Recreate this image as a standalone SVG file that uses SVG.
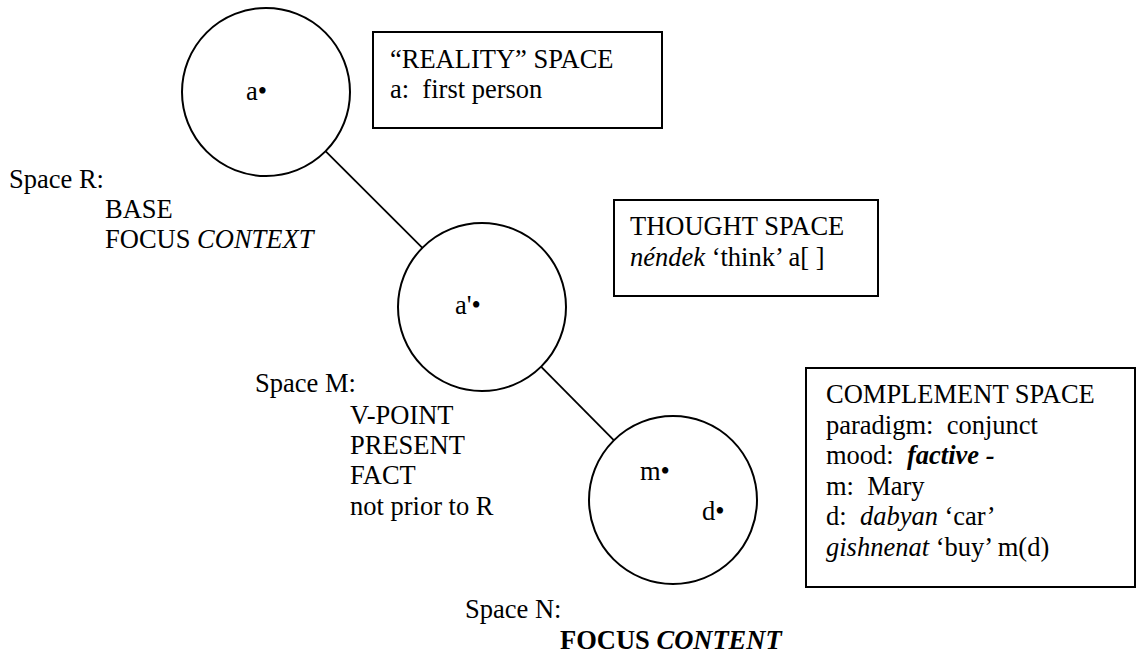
<svg xmlns="http://www.w3.org/2000/svg" width="1140" height="656" viewBox="0 0 1140 656">
  <style>
    text { font-family: "Liberation Serif", "Times New Roman", serif; font-size: 26.5px; fill: #000; white-space: pre; }
    .space { fill: #fff; stroke: #000; stroke-width: 2; }
    .box { fill: #fff; stroke: #000; stroke-width: 2; }
    .link { stroke: #000; stroke-width: 1.8; fill: none; }
    .i { font-style: italic; }
    .b { font-weight: bold; }
  </style>
  <rect width="1140" height="656" fill="#fff"/>

  <!-- connectors between mental spaces -->
  <g id="connectors">
    <line class="link" x1="325.5" y1="151.2" x2="422.4" y2="247.8"/>
    <line class="link" x1="541" y1="366.7" x2="614" y2="440.3"/>
  </g>

  <!-- Space R -->
  <g id="space-r">
    <circle class="space" cx="266" cy="92" r="84"/>
    <text x="246" y="100">a•</text>
    <text x="9" y="188">Space R:</text>
    <text x="105" y="218">BASE</text>
    <text x="105" y="248">FOCUS <tspan class="i">CONTEXT</tspan></text>
  </g>

  <!-- Space M -->
  <g id="space-m">
    <circle class="space" cx="482" cy="307" r="84"/>
    <text x="455" y="314">a'•</text>
    <text x="255" y="392">Space M:</text>
    <text x="350" y="424">V-POINT</text>
    <text x="350" y="454">PRESENT</text>
    <text x="350" y="484">FACT</text>
    <text x="350" y="515">not prior to R</text>
  </g>

  <!-- Space N -->
  <g id="space-n">
    <circle class="space" cx="673" cy="500" r="84"/>
    <text x="640" y="480">m•</text>
    <text x="702" y="520">d•</text>
    <text x="465" y="618">Space N:</text>
    <text x="560" y="649" class="b">FOCUS <tspan class="i">CONTENT</tspan></text>
  </g>

  <!-- annotation boxes -->
  <g id="reality-box">
    <rect class="box" x="373" y="32" width="289" height="96"/>
    <text x="390" y="68">“REALITY” SPACE</text>
    <text x="390" y="98">a:  first person</text>
  </g>

  <g id="thought-box">
    <rect class="box" x="614" y="200" width="264" height="96"/>
    <text x="630" y="235">THOUGHT SPACE</text>
    <text x="630" y="266"><tspan class="i">néndek</tspan> ‘think’ a[ ]</text>
  </g>

  <g id="complement-box">
    <rect class="box" x="806" y="368" width="329" height="219"/>
    <text x="826" y="403">COMPLEMENT SPACE</text>
    <text x="826" y="434">paradigm:  conjunct</text>
    <text x="826" y="464">mood:  <tspan class="b i">factive -</tspan></text>
    <text x="826" y="495">m:  Mary</text>
    <text x="826" y="525">d:  <tspan class="i">dabyan</tspan> ‘car’</text>
    <text x="826" y="556"><tspan class="i">gishnenat</tspan> ‘buy’ m(d)</text>
  </g>
</svg>
